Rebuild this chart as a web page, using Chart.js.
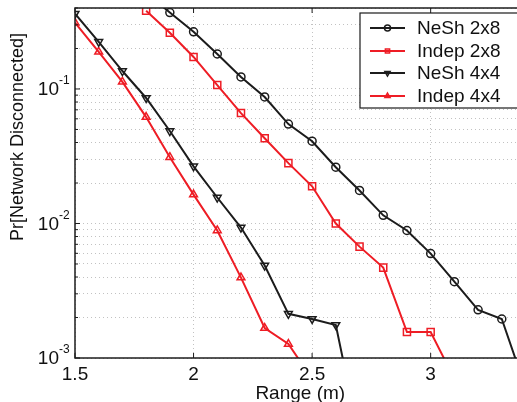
<!DOCTYPE html>
<html>
<head>
<meta charset="utf-8">
<script src="https://cdn.jsdelivr.net/npm/chart.js@4/dist/chart.umd.min.js"></script>
<style>
    html, body { margin: 0; padding: 0; width: 517px; height: 402px; overflow: hidden; background: #fff; }
    #wrap { width: 532px; height: 402px; }
</style>
</head>
<body>
<div id="wrap"><canvas id="chart" width="532" height="402"></canvas></div>
<script>
// ranges (m) shared by all series
const ranges = [1.5, 1.6, 1.7, 1.8, 1.9, 2.0, 2.1, 2.2, 2.3, 2.4, 2.5, 2.6, 2.7, 2.8, 2.9, 3.0, 3.1, 3.2, 3.3, 3.4];

const neSh2x8 = [null, null, null, 0.52, 0.37, 0.266, 0.182, 0.123, 0.0872, 0.0548, 0.0409, 0.0262, 0.0176, 0.0115, 0.00887, 0.00597, 0.00369, 0.00228, 0.00195, 0.0006];
const indep2x8 = [null, null, null, 0.382, 0.262, 0.173, 0.107, 0.0662, 0.043, 0.0281, 0.0189, 0.01, 0.00673, 0.0047, 0.00156, 0.00156, 0.0007, null, null, null];
const neSh4x4 = [0.363, 0.224, 0.136, 0.0857, 0.0487, 0.0266, 0.0156, 0.00933, 0.00487, 0.00213, 0.00195, 0.00176, 0.00025, null, null, null, null, null, null, null];
const indep4x4 = [0.311, 0.189, 0.113, 0.0618, 0.0311, 0.0164, 0.00887, 0.00396, 0.00167, 0.00127, 0.0007, null, null, null, null, null, null, null, null, null];

const seriesNames = ['NeSh 2x8', 'Indep 2x8', 'NeSh 4x4', 'Indep 4x4'];

const xTicks = [1.5, 2, 2.5, 3];
const xTickLabels = ['1.5', '2', '2.5', '3'];
const yTicks = [0.001, 0.01, 0.1];
const yTickExps = ['-3', '-2', '-1'];
const yMinor = [2, 3, 4, 5, 6, 7, 8, 9];

const xTitle = 'Range (m)';
const yTitle = 'Pr[Network Disconnected]';

const BLACK = '#1c1c1c';
const RED = '#ee1d25';
const FONT = '"Liberation Sans", Arial, sans-serif';

const toPoints = (vals) => vals.map((v, i) => ({ x: ranges[i], y: v }));

const makeSet = (label, vals, color, style, rotation, radius) => ({
    label,
    data: toPoints(vals),
    borderColor: color,
    backgroundColor: 'transparent',
    borderWidth: 2,
    pointStyle: style,
    pointRotation: rotation,
    pointRadius: radius,
    pointBorderWidth: 1.5,
    pointBorderColor: color,
    pointBackgroundColor: 'transparent',
    tension: 0,
    spanGaps: false,
});

// minor grid values for the log axis
const yGrid = [];
yTicks.forEach(d => {
    yGrid.push(d);
    yMinor.forEach(m => { if (d * m <= 0.4) yGrid.push(d * m); });
});

const matlabAxes = {
    id: 'matlabAxes',
    afterDatasetsDraw(chart) {
        const { ctx, chartArea: a, scales: { x, y } } = chart;
        ctx.save();

        // axes box
        ctx.strokeStyle = BLACK;
        ctx.lineWidth = 1.5;
        ctx.strokeRect(a.left, a.top, a.right - a.left, a.bottom - a.top);

        // inward ticks
        ctx.lineWidth = 1;
        xTicks.forEach(v => {
            const px = x.getPixelForValue(v);
            ctx.beginPath();
            ctx.moveTo(px, a.bottom); ctx.lineTo(px, a.bottom - 5);
            ctx.moveTo(px, a.top); ctx.lineTo(px, a.top + 5);
            ctx.stroke();
        });
        yGrid.forEach(v => {
            const py = y.getPixelForValue(v);
            const len = yTicks.includes(v) ? 5 : 3;
            ctx.beginPath();
            ctx.moveTo(a.left, py); ctx.lineTo(a.left + len, py);
            ctx.stroke();
        });

        // tick labels
        ctx.fillStyle = '#111';
        ctx.font = '19px ' + FONT;
        ctx.textAlign = 'center';
        ctx.textBaseline = 'middle';
        xTicks.forEach((v, i) => {
            ctx.fillText(xTickLabels[i], x.getPixelForValue(v), a.bottom + 17);
        });
        yTicks.forEach((v, i) => {
            const py = y.getPixelForValue(v);
            ctx.font = '19px ' + FONT;
            ctx.textAlign = 'right';
            ctx.fillText('10', 59, py + 1);
            ctx.font = '12px ' + FONT;
            ctx.textAlign = 'left';
            ctx.fillText(yTickExps[i], 59, py - 8);
        });

        // axis titles
        ctx.font = '19px ' + FONT;
        ctx.textAlign = 'center';
        ctx.fillText(xTitle, (a.left + a.right) / 2, a.bottom + 36);
        ctx.save();
        ctx.font = '18px ' + FONT;
        ctx.translate(18, 137);
        ctx.rotate(-Math.PI / 2);
        ctx.fillText(yTitle, 0, 0);
        ctx.restore();

        // legend box inside the axes
        const lx = 360, ly = 13, lw = 180, lh = 95;
        ctx.fillStyle = '#fff';
        ctx.fillRect(lx, ly, lw, lh);
        ctx.strokeStyle = BLACK;
        ctx.lineWidth = 1.2;
        ctx.strokeRect(lx, ly, lw, lh);
        const rows = [28, 51, 73, 96];
        chart.data.datasets.forEach((ds, i) => {
            const ry = rows[i];
            ctx.strokeStyle = ds.borderColor;
            ctx.lineWidth = 2;
            ctx.beginPath();
            ctx.moveTo(370, ry); ctx.lineTo(405, ry);
            ctx.stroke();
            ctx.lineWidth = 1.5;
            ctx.fillStyle = 'transparent';
            Chart.helpers.drawPoint(ctx, {
                pointStyle: ds.pointStyle,
                rotation: ds.pointRotation,
                radius: 3,
                borderWidth: 1.5,
            }, 387.5, ry);
            ctx.fillStyle = '#111';
            ctx.font = '19px ' + FONT;
            ctx.textAlign = 'left';
            ctx.textBaseline = 'middle';
            ctx.fillText(ds.label, 417, ry + 1);
        });

        ctx.restore();
    }
};

const gridOpts = { color: '#c2c2c2', lineWidth: 1, drawTicks: false };
const borderOpts = { display: false, dash: [1, 3] };

new Chart(document.getElementById('chart'), {
    type: 'line',
    data: {
        datasets: [
            makeSet(seriesNames[0], neSh2x8, BLACK, 'circle', 0, 4),
            makeSet(seriesNames[1], indep2x8, RED, 'rect', 0, 5),
            makeSet(seriesNames[2], neSh4x4, BLACK, 'triangle', 180, 4.5),
            makeSet(seriesNames[3], indep4x4, RED, 'triangle', 0, 4.5),
        ],
    },
    options: {
        responsive: false,
        animation: false,
        layout: { padding: { top: 8, right: 6, left: 0, bottom: 0 } },
        plugins: { legend: { display: false }, tooltip: { enabled: false } },
        scales: {
            x: {
                type: 'linear',
                min: 1.5,
                max: 3.4,
                afterBuildTicks: s => { s.ticks = xTicks.map(v => ({ value: v })); },
                afterFit: s => { s.height = 44; },
                ticks: { display: false },
                grid: gridOpts,
                border: borderOpts,
            },
            y: {
                type: 'logarithmic',
                min: 0.001,
                max: 0.4,
                afterBuildTicks: s => { s.ticks = yGrid.map(v => ({ value: v })); },
                afterFit: s => { s.width = 75; },
                ticks: { display: false },
                grid: gridOpts,
                border: borderOpts,
            },
        },
    },
    plugins: [matlabAxes],
});
</script>
</body>
</html>
